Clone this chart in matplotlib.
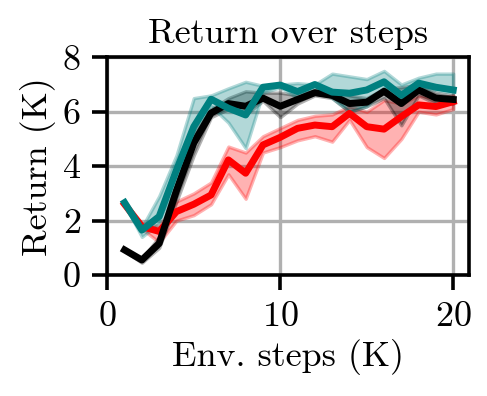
import numpy as np
import matplotlib
matplotlib.use("Agg")
import matplotlib.pyplot as plt

plt.rcParams["font.family"] = "serif"
plt.rcParams["font.serif"] = ["cmr10"]
plt.rcParams["mathtext.fontset"] = "cm"
plt.rcParams["axes.formatter.use_mathtext"] = True

steps = np.arange(1, 21)

# black run
black_mean = [0.92, 0.55, 1.16, 3.1, 4.85, 5.95, 6.3, 6.2, 6.5, 6.2,
              6.45, 6.7, 6.6, 6.3, 6.35, 6.75, 6.3, 6.8, 6.5, 6.45]
black_low = [0.88, 0.45, 1.0, 2.7, 4.4, 5.8, 6.1, 5.9, 6.4, 5.8,
             6.3, 6.6, 6.5, 6.0, 6.2, 6.5, 5.5, 6.6, 6.3, 6.3]
black_high = [0.96, 0.6, 1.4, 3.4, 5.2, 6.1, 6.5, 6.75, 6.7, 6.7,
              6.6, 6.8, 6.8, 6.6, 6.5, 6.85, 6.9, 7.0, 6.7, 6.6]

# teal run
teal_mean = [2.66, 1.65, 2.15, 3.86, 5.45, 6.46, 6.13, 5.88, 6.9, 6.98,
             6.74, 7.0, 6.72, 6.68, 6.8, 7.1, 6.6, 7.05, 6.9, 6.8]
teal_low = [2.6, 1.4, 1.9, 3.3, 5.0, 6.2, 5.6, 4.66, 6.7, 6.9,
            6.5, 6.95, 6.5, 6.0, 6.2, 6.9, 6.4, 6.9, 6.8, 6.7]
teal_high = [2.7, 1.75, 2.9, 4.4, 6.5, 6.6, 6.86, 7.1, 6.95, 7.0,
             7.05, 7.0, 7.4, 7.3, 7.2, 7.5, 7.0, 7.25, 7.4, 7.4]

# red run
red_mean = [2.6, 1.78, 1.6, 2.33, 2.6, 2.94, 4.23, 3.74, 4.78, 5.06,
            5.39, 5.51, 5.45, 5.94, 5.45, 5.36, 5.82, 6.25, 6.19, 6.37]
red_low = [2.55, 1.7, 1.2, 2.0, 2.2, 2.6, 3.7, 2.8, 4.5, 4.7,
           4.95, 5.1, 4.9, 5.7, 4.7, 4.3, 5.0, 6.0, 5.9, 6.1]
red_high = [2.65, 1.9, 1.8, 2.7, 3.0, 3.4, 4.72, 4.5, 5.1, 5.4,
            5.7, 5.85, 5.9, 6.2, 6.0, 6.43, 6.3, 6.6, 6.5, 6.6]

runs = [
    ("red", red_mean, red_low, red_high),
    ("black", black_mean, black_low, black_high),
    ("#008080", teal_mean, teal_low, teal_high),
]

fig = plt.figure(figsize=(2.435, 1.98), dpi=200)
ax = fig.add_axes([0.2203, 0.3056, 0.7434, 0.5497])

for z, (c, m, lo, hi) in enumerate(runs):
    ax.fill_between(steps, lo, hi, color=c, alpha=0.3, linewidth=1.2, zorder=2 + z)
    ax.plot(steps, m, color=c, linewidth=2.5, zorder=5 + z)

ax.set_xlim(0, 20.93)
ax.set_ylim(0, 8)
ax.set_xticks([0, 10, 20])
ax.set_yticks([0, 2, 4, 6, 8])
ax.grid(True, color="#b0b0b0", linewidth=1.2)
ax.set_axisbelow(True)
for s in ax.spines.values():
    s.set_linewidth(1.3)
ax.tick_params(labelsize=13, width=1.3, length=5.5, pad=4)

ax.set_title("Return over steps", fontsize=13, pad=5)
ax.set_xlabel("Env. steps (K)", fontsize=13, labelpad=2)
ax.set_ylabel("Return (K)", fontsize=13, labelpad=2)

fig.savefig("out.png", dpi=200)
